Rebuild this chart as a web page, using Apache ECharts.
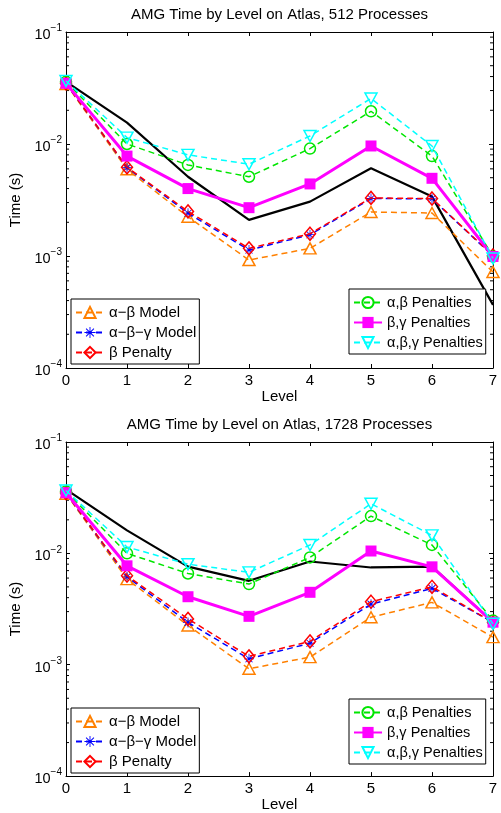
<!DOCTYPE html>
<html>
<head>
<meta charset="utf-8">
<script src="https://cdn.jsdelivr.net/npm/echarts@6/dist/echarts.min.js"></script>
<style>
html,body{margin:0;padding:0;background:#fff;}
#c{width:501px;height:813px;}
</style>
</head>
<body>
<div id="c"></div>
<script>
// ---- data ----
const levels = [0, 1, 2, 3, 4, 5, 6, 7];
const xTicks = ['0','1','2','3','4','5','6','7'];
const titles = ['AMG Time by Level on Atlas, 512 Processes', 'AMG Time by Level on Atlas, 1728 Processes'];
const seriesNames = ['α−β Model', 'α−β−γ Model', 'β Penalty', 'α,β Penalties', 'β,γ Penalties', 'α,β,γ Penalties'];

// 512 processes
const measured512   = [0.036, 0.0155, 0.0051, 0.0021, 0.00306, 0.00607, 0.00339, 0.000366];
const abModel512    = [0.0343, 0.00594, 0.00224, 0.00092, 0.00117, 0.00247, 0.00242, 0.00072];
const abgModel512   = [0.0348, 0.00615, 0.00241, 0.00113, 0.00155, 0.00326, 0.00324, 0.00100];
const bPen512       = [0.0348, 0.0062, 0.0025, 0.00117, 0.00158, 0.00330, 0.00326, 0.00101];
const abPen512      = [0.036, 0.0100, 0.0065, 0.0051, 0.0091, 0.0196, 0.0078, 0.00099];
const bgPen512      = [0.0348, 0.0078, 0.0040, 0.00270, 0.0044, 0.0096, 0.00494, 0.00099];
const abgPen512     = [0.0366, 0.0114, 0.0080, 0.0066, 0.0118, 0.0255, 0.0096, 0.00095];

// 1728 processes
const measured1728  = [0.0375, 0.0161, 0.0076, 0.00567, 0.00845, 0.00747, 0.0076, 0.00241];
const abModel1728   = [0.0343, 0.00587, 0.00225, 0.00092, 0.00117, 0.00267, 0.00363, 0.00177];
const abgModel1728  = [0.0348, 0.00616, 0.0024, 0.00113, 0.00156, 0.0035, 0.00485, 0.0024];
const bPen1728      = [0.0348, 0.0063, 0.00258, 0.00119, 0.00162, 0.00368, 0.00501, 0.0024];
const abPen1728     = [0.036, 0.0100, 0.0066, 0.0053, 0.0092, 0.0216, 0.0119, 0.00249];
const bgPen1728     = [0.035, 0.00773, 0.00408, 0.00272, 0.00447, 0.0105, 0.00757, 0.00241];
const abgPen1728    = [0.0367, 0.0114, 0.0080, 0.00675, 0.0119, 0.0279, 0.0145, 0.00233];

const minorTickValues = [];
[1e-4, 1e-3, 1e-2].forEach(function (d) { for (let m = 2; m <= 9; m++) minorTickValues.push(m * d); });

// ---- styling ----
const FONT = '"Liberation Sans", Arial, Helvetica, sans-serif';
const FS = 15;
const ASTERISK = 'path://M9.2,0L10.8,0L10.8,20L9.2,20Z M0,9.2L20,9.2L20,10.8L0,10.8Z M2.4,3.6L3.6,2.4L17.6,16.4L16.4,17.6Z M3.6,17.6L2.4,16.4L16.4,2.4L17.6,3.6Z';

const styles = [
  { color: '#ff8000', symbol: 'triangle', size: [12, 11], hollow: true, dashed: true, width: 1.5 },
  { color: '#0000ff', symbol: ASTERISK, size: 10, hollow: false, dashed: true, width: 1.5 },
  { color: '#ff0000', symbol: 'diamond', size: [11, 13], hollow: true, dashed: true, width: 1.5 },
  { color: '#00e600', symbol: 'circle', size: 11, hollow: true, dashed: true, width: 1.5 },
  { color: '#ff00ff', symbol: 'rect', size: 11, hollow: false, dashed: false, width: 3 },
  { color: '#00ffff', symbol: 'triangle', size: [12, 11], hollow: true, dashed: true, width: 1.5, rotate: 180 }
];

function supLabel(v) {
  const e = Math.round(Math.log10(v));
  return '{b|10}{s|' + (e < 0 ? '−' : '') + Math.abs(e) + '}';
}

const tops = [32, 442];
const gridH = 336;

const grids = [], xAxes = [], yAxes = [], series = [], legends = [];

function addPanel(p, measured, sets) {
  grids.push({ left: 66, right: 8, top: tops[p], height: gridH, containLabel: false });
  xAxes.push({
    gridIndex: p, type: 'value', min: 0, max: 7, interval: 1, position: 'bottom',
    name: 'Level', nameLocation: 'middle', nameGap: 19,
    nameTextStyle: { fontFamily: FONT, fontSize: FS, color: '#000' },
    axisLine: { show: true, onZero: false, lineStyle: { color: '#000', width: 1 } },
    axisTick: { show: true, inside: true, length: 4, lineStyle: { color: '#000' } },
    axisLabel: { margin: 5, fontFamily: FONT, fontSize: FS, color: '#000',
      formatter: function (v) { return xTicks[levels.indexOf(v)]; } },
    splitLine: { show: false }
  });
  xAxes.push({
    gridIndex: p, type: 'value', min: 0, max: 7, interval: 1, position: 'top',
    name: titles[p], nameLocation: 'middle', nameGap: 10,
    nameTextStyle: { fontFamily: FONT, fontSize: FS, color: '#000' },
    axisLine: { show: true, onZero: false, lineStyle: { color: '#000', width: 1 } },
    axisTick: { show: true, inside: true, length: 4, lineStyle: { color: '#000' } },
    axisLabel: { show: false }, splitLine: { show: false }
  });
  yAxes.push({
    gridIndex: p, type: 'log', logBase: 10, min: 1e-4, max: 1e-1, position: 'left',
    name: 'Time (s)', nameLocation: 'middle', nameGap: 36,
    nameTextStyle: { fontFamily: FONT, fontSize: FS, color: '#000' },
    axisLine: { show: true, onZero: false, lineStyle: { color: '#000', width: 1 } },
    axisTick: { show: true, inside: true, length: 4, lineStyle: { color: '#000' } },
    axisLabel: { margin: 4, formatter: supLabel,
      rich: { b: { fontFamily: FONT, fontSize: 14.5, color: '#000', padding: [6, 0, 0, 0] },
              s: { fontFamily: FONT, fontSize: 10, color: '#000', padding: [0, 0, 7, 0] } } },
    splitLine: { show: false }, minorTick: { show: false }
  });
  yAxes.push({
    gridIndex: p, type: 'log', logBase: 10, min: 1e-4, max: 1e-1, position: 'right',
    axisLine: { show: true, onZero: false, lineStyle: { color: '#000', width: 1 } },
    axisTick: { show: true, inside: true, length: 4, lineStyle: { color: '#000' } },
    axisLabel: { show: false }, splitLine: { show: false }
  });
  const xi = p * 2, yi = p * 2;

  series.push({
    type: 'custom', xAxisIndex: xi, yAxisIndex: yi, silent: true, z: 1,
    data: minorTickValues.map(function (v) { return [0, v]; }),
    renderItem: function (params, api) {
      const l = api.coord([0, api.value(1)]);
      const r = api.coord([7, api.value(1)]);
      return { type: 'group', children: [
        { type: 'line', shape: { x1: l[0], y1: l[1], x2: l[0] + 3, y2: l[1] }, style: { stroke: '#000', lineWidth: 1 } },
        { type: 'line', shape: { x1: r[0], y1: r[1], x2: r[0] - 3, y2: r[1] }, style: { stroke: '#000', lineWidth: 1 } }
      ] };
    }
  });

  series.push({
    type: 'line', name: 'Measured', xAxisIndex: xi, yAxisIndex: yi, z: 2,
    data: levels.map(function (l, i) { return [l, measured[i]]; }),
    showSymbol: false, symbol: 'none', lineStyle: { color: '#000', width: 2.2 }, itemStyle: { color: '#000' },
    animation: false
  });

  sets.forEach(function (vals, k) {
    const st = styles[k];
    series.push({
      type: 'line', name: seriesNames[k], xAxisIndex: xi, yAxisIndex: yi, z: 3 + k,
      data: levels.map(function (l, i) { return [l, vals[i]]; }),
      symbol: st.symbol, symbolSize: st.size, symbolRotate: st.rotate || 0,
      showSymbol: true,
      lineStyle: { color: st.color, width: st.width, type: st.dashed ? [6, 4] : 'solid' },
      itemStyle: st.hollow ? { color: 'rgba(0,0,0,0)', borderColor: st.color, borderWidth: 1.5 }
                           : { color: st.color, borderColor: st.color, borderWidth: 0 },
      animation: false
    });
  });

  const legendCommon = {
    orient: 'vertical', itemWidth: 28, itemHeight: 14, itemGap: 5,
    backgroundColor: '#fff', borderColor: '#000', borderWidth: 1, borderRadius: 0,
    padding: [6, 3, 4, 4], selectedMode: false,
    textStyle: { fontFamily: FONT, fontSize: FS, color: '#000' }
  };
  legends.push(Object.assign({}, legendCommon, {
    left: 71, top: tops[p] + (p === 0 ? 267 : 266), data: seriesNames.slice(0, 3)
  }));
  legends.push(Object.assign({}, legendCommon, {
    left: 349, top: tops[p] + 257, data: seriesNames.slice(3, 6),
    textStyle: { fontFamily: FONT, fontSize: 14.5, color: '#000' }
  }));
}

addPanel(0, measured512, [abModel512, abgModel512, bPen512, abPen512, bgPen512, abgPen512]);
addPanel(1, measured1728, [abModel1728, abgModel1728, bPen1728, abPen1728, bgPen1728, abgPen1728]);

const chart = echarts.init(document.getElementById('c'), null, { renderer: 'canvas' });
chart.setOption({
  backgroundColor: '#fff',
  animation: false,
  grid: grids,
  xAxis: xAxes,
  yAxis: yAxes,
  legend: legends,
  series: series
});
</script>
</body>
</html>
